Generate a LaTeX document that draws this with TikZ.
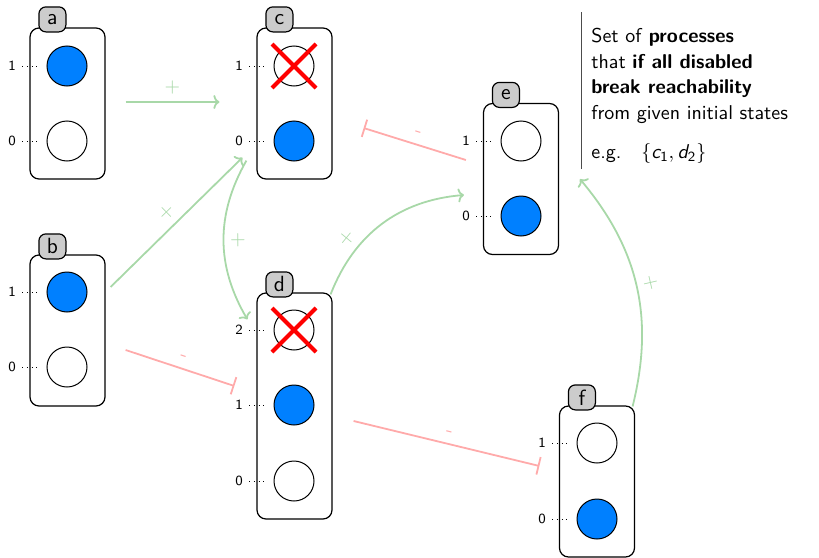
\documentclass[tikz,border=0pt]{standalone}
\usetikzlibrary{calc,arrows.meta}
\renewcommand{\familydefault}{\sfdefault}
\definecolor{posgreen}{RGB}{168,216,168}
\definecolor{negred}{RGB}{255,170,170}
\definecolor{stateblue}{RGB}{0,128,255}
\definecolor{tabgray}{RGB}{204,204,204}
\tikzset{
  proc/.style={draw, rounded corners=4.5pt, minimum width=37.5pt, line width=0.6pt},
  proctab/.style={draw, fill=tabgray, rounded corners=3.5pt, minimum width=13.5pt,
    minimum height=12.5pt, inner sep=0pt, line width=0.6pt, font=\fontsize{11}{13}\selectfont},
  lvl/.style={circle, draw, minimum size=20pt, inner sep=0pt, line width=0.5pt},
  lvlon/.style={lvl, fill=stateblue},
  lvloff/.style={lvl, fill=white},
  lvlnum/.style={font=\scriptsize, inner sep=0pt},
  lvltick/.style={dotted, line width=0.4pt, shorten <=5pt, shorten >=14.5pt},
  xmark/.style={red, line width=2pt},
  posedge/.style={draw=posgreen, line width=0.9pt, -{To[length=3pt,width=7pt]}},
  negedge/.style={draw=negred, line width=0.9pt, -{Bar[width=9pt]}},
  poslbl/.style={text=posgreen, sloped},
  neglbl/.style={text=negred, sloped},
}
% one local state of a process: node name, x, y, level number, style
\newcommand{\procstate}[5]{%
  \node[#5] (#1) at (#2,#3) {};
  \node[lvlnum] (#1n) at (#2-55,#3) {#4};
  \draw[lvltick] (#1n.center) -- (#1.center);
}
% a red cross over a disabled state
\newcommand{\disabled}[1]{%
  \draw[xmark] ($(#1)+(-22,-22)$) -- ($(#1)+(22,22)$);
  \draw[xmark] ($(#1)+(-22,22)$) -- ($(#1)+(22,-22)$);
}
\begin{document}
\begin{tikzpicture}[x=0.5pt, y=-0.5pt]
\useasboundingbox (0,0) rectangle (819,557);

% process boxes
\node[proc, minimum height=75.5pt] (a) at (67.5,103.5) {};
\node[proc, minimum height=75.5pt] (b) at (67.5,330.5) {};
\node[proc, minimum height=75.5pt] (c) at (294.5,103.5) {};
\node[proc, minimum height=113pt]  (d) at (294.5,406) {};
\node[proc, minimum height=75.5pt] (e) at (521,179) {};
\node[proc, minimum height=75.5pt] (f) at (597,481.5) {};

% name tabs
\foreach \p in {a,b,c,d,e,f}
  \node[proctab] (\p tab) at ($(\p.north west)+(23,-8)$) {\p};

% local states
\procstate{a1}{67}{66}{1}{lvlon}
\procstate{a0}{67}{141}{0}{lvloff}
\procstate{b1}{67}{292}{1}{lvlon}
\procstate{b0}{67}{367}{0}{lvloff}
\procstate{c1}{294}{66}{1}{lvloff}
\procstate{c0}{294}{141}{0}{lvlon}
\procstate{d2}{294}{330}{2}{lvloff}
\procstate{d1}{294}{405}{1}{lvlon}
\procstate{d0}{294}{481}{0}{lvloff}
\procstate{e1}{521}{141}{1}{lvloff}
\procstate{e0}{521}{216}{0}{lvlon}
\procstate{f1}{597}{443}{1}{lvloff}
\procstate{f0}{597}{519}{0}{lvlon}

\disabled{c1}
\disabled{d2}

% influences
\draw[posedge] ($(a.east)+(20,-1.5)$) -- node[poslbl, above] {+} ($(c.west)+(-37,-1.5)$);
\draw[posedge] ($(b.east)+(5,-43.5)$) -- node[poslbl, above] {+} ($(c.south west)+(-14,-22)$);
\draw[posedge] ($(c.south west)+(-10,-19)$) to[bend right=30] node[poslbl, above] {+} ($(d.north west)+(-9,27)$);
\draw[negedge] ($(b.east)+(20,19.5)$) -- node[neglbl, above] {-} ($(d.west)+(-22,-20)$);
\draw[posedge] ($(d.north east)+(-2,2)$) to[bend left=32] node[poslbl, above, pos=0.3] {+} ($(e.west)+(-19,16)$);
\draw[negedge] ($(e.west)+(-17,-19)$) -- node[neglbl, above] {-} ($(c.east)+(31,24.5)$);
\draw[negedge] ($(d.east)+(21,15)$) -- node[neglbl, above] {-} ($(f.west)+(-19.5,-15.5)$);

% note
\node[anchor=north west, align=left, inner xsep=5pt, inner ysep=4pt,
      font=\fontsize{10}{12.75}\selectfont] (note) at (581,20)
  {Set of \textbf{processes}\\
   that \textbf{if all disabled}\\
   \textbf{break reachability}\\
   from given initial states\\[7pt]
   e.g.\quad$\{\mbox{\itshape c}_{\mbox{\scriptsize 1}}, \mbox{\itshape d}_{\mbox{\scriptsize 2}}\}$};
\draw[line width=0.5pt, black!70] ($(note.north west)+(0,-8)$) -- ($(note.south west)+(0,-3)$);

\draw[posedge] ($(f.north east)+(-2.5,1)$) to[bend right=27] node[poslbl, above] {+} ($(note.south west)+(-1,7)$);
\end{tikzpicture}
\end{document}
